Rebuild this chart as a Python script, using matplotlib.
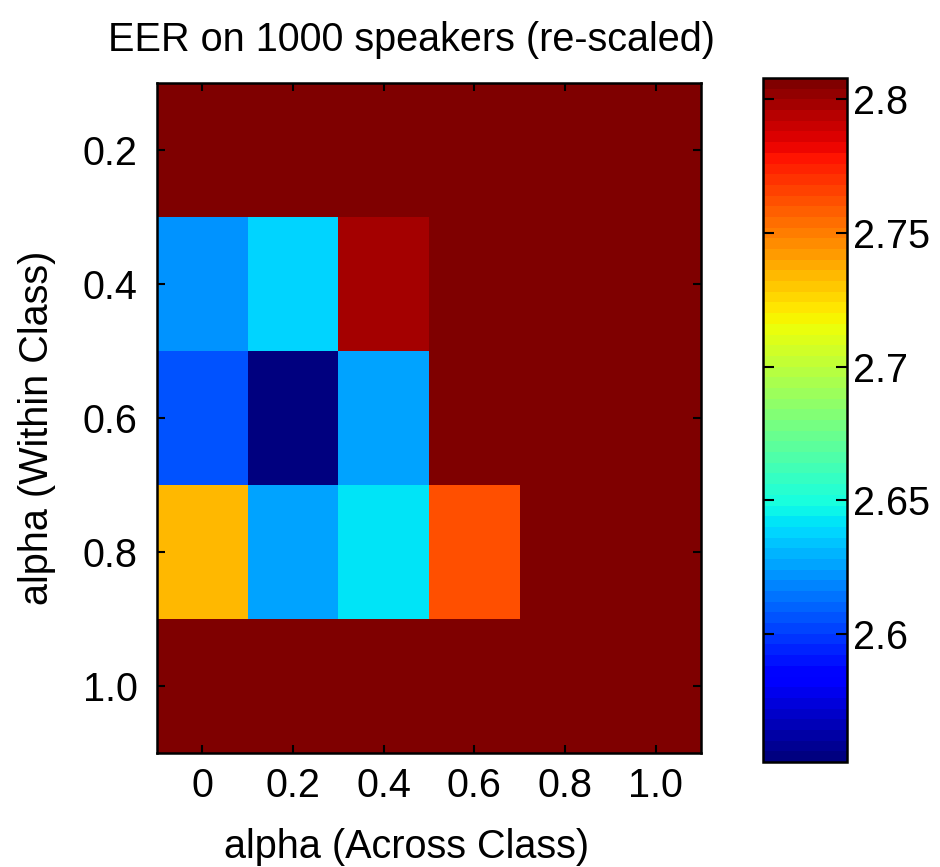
import numpy as np
import matplotlib
matplotlib.use("Agg")
import matplotlib.pyplot as plt

plt.rcParams['font.family'] = ['Liberation Sans', 'DejaVu Sans']

# alpha values for the two axes
alpha_across = ["0", "0.2", "0.4", "0.6", "0.8", "1.0"]
alpha_within = ["0.2", "0.4", "0.6", "0.8", "1.0"]

# EER (re-scaled), one row per within-class alpha
row_02 = [2.808, 2.808, 2.808, 2.808, 2.808, 2.808]
row_04 = [2.622, 2.639, 2.798, 2.808, 2.808, 2.808]
row_06 = [2.606, 2.552, 2.624, 2.808, 2.808, 2.808]
row_08 = [2.733, 2.624, 2.640, 2.763, 2.808, 2.808]
row_10 = [2.808, 2.808, 2.808, 2.808, 2.808, 2.808]

cbar_ticks = [2.6, 2.65, 2.7, 2.75, 2.8]
cbar_labels = ["2.6", "2.65", "2.7", "2.75", "2.8"]

eer = np.array([row_02, row_04, row_06, row_08, row_10])

fs = 28.5
fig = plt.figure(figsize=(9.4, 8.67), dpi=100)
ax = fig.add_axes([157/940, 1-753/867, 544/940, 670/867])
cax = fig.add_axes([763/940, 1-762/867, 84/940, 684/867])

im = ax.imshow(eer, cmap=plt.get_cmap('jet', 64), aspect='auto',
               interpolation='nearest')

ax.set_xticks(range(len(alpha_across)))
ax.set_xticklabels(alpha_across)
ax.set_yticks(range(len(alpha_within)))
ax.set_yticklabels(alpha_within)
ax.tick_params(direction='in', length=6, width=1.5, labelsize=fs,
               top=True, right=True)
ax.tick_params(axis='x', pad=10)
ax.tick_params(axis='y', pad=14)
for s in ax.spines.values():
    s.set_linewidth(1.8)

ax.set_xlabel("alpha (Across Class)", fontsize=fs)
ax.xaxis.set_label_coords(0.458, -0.112)
ax.set_ylabel("alpha (Within Class)", fontsize=fs)
ax.yaxis.set_label_coords(-0.185, 0.485)

fig.text(412/940, 1-40/867, "EER on 1000 speakers (re-scaled)",
         fontsize=fs, ha='center', va='center')

cb = fig.colorbar(im, cax=cax, ticks=cbar_ticks)
cb.ax.set_yticklabels(cbar_labels)
cb.ax.tick_params(direction='in', length=8, width=1.5, labelsize=fs,
                  left=True, right=True, pad=4)
cb.outline.set_linewidth(1.8)

fig.savefig("out.png", dpi=100)
